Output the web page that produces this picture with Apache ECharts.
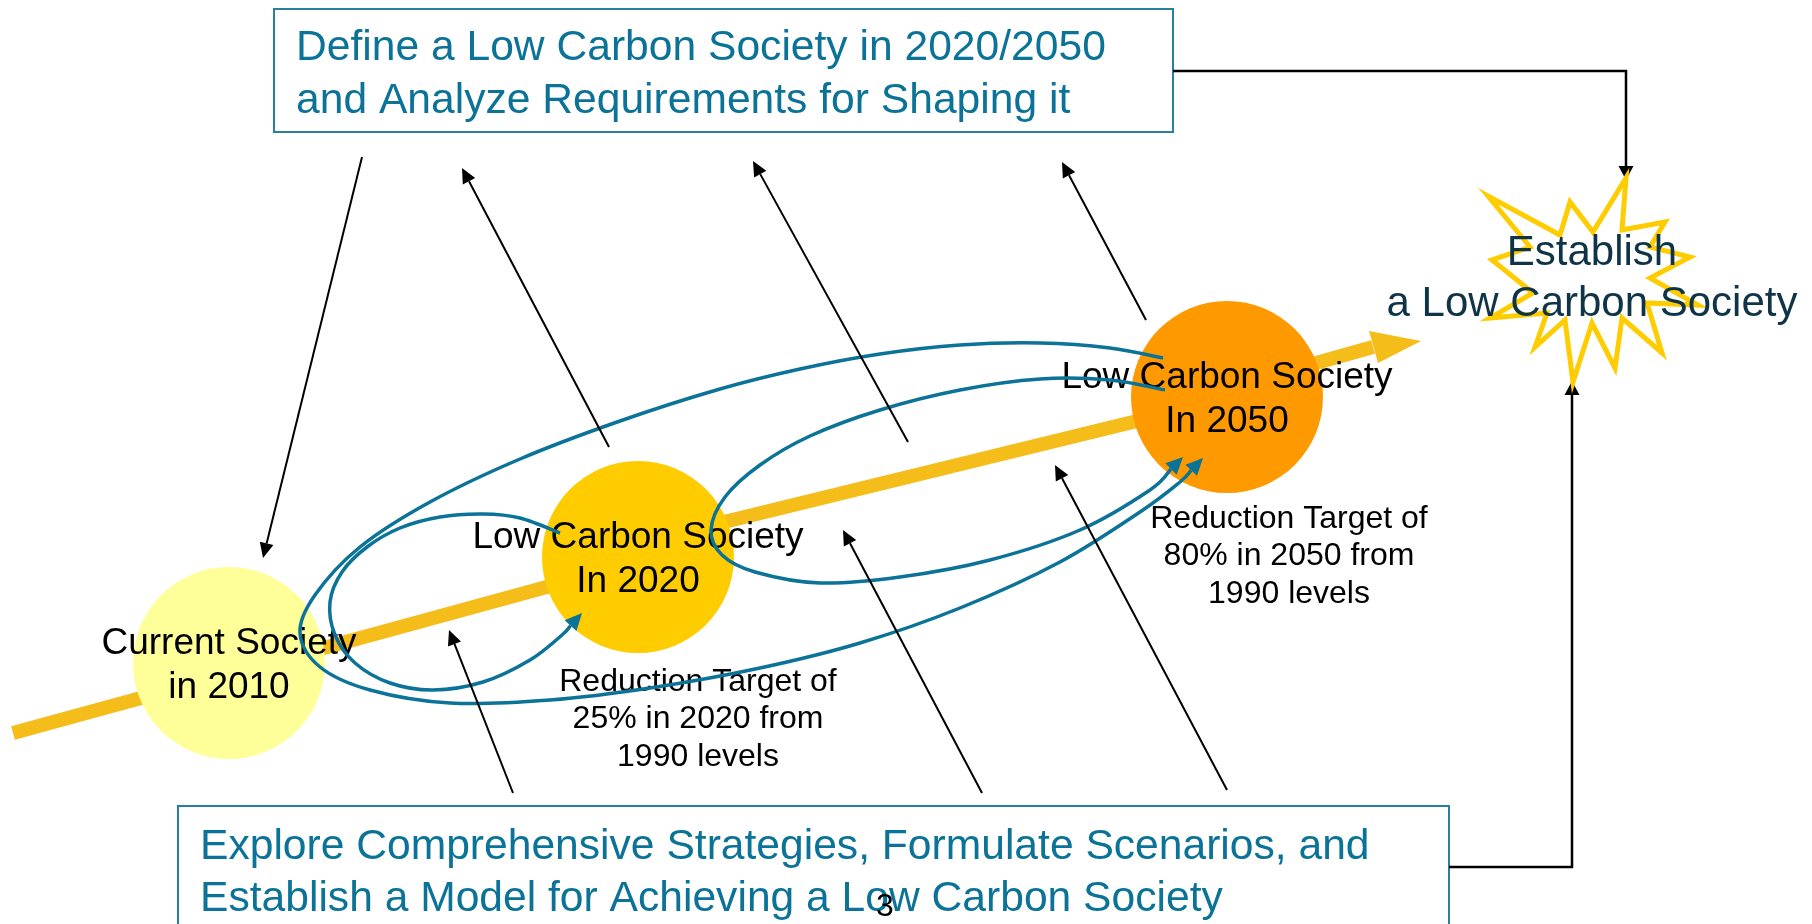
<!DOCTYPE html>
<html><head><meta charset="utf-8">
<script src="https://cdn.jsdelivr.net/npm/echarts@6/dist/echarts.min.js"></script>
<style>html,body{margin:0;padding:0;background:#fff}#c{width:1812px;height:924px}</style>
</head><body><div id="c"></div>
<script>
// ---------- texts ----------
const topBoxLines = ['Define a Low Carbon Society in 2020/2050', 'and Analyze Requirements for Shaping it'];
const bottomBoxLines = ['Explore Comprehensive Strategies, Formulate Scenarios, and', 'Establish a Model for Achieving a Low Carbon Society'];
const goalLines = ['Establish', 'a Low Carbon Society'];
const stageNames = [['Current Society', 'in 2010'], ['Low Carbon Society', 'In 2020'], ['Low Carbon Society', 'In 2050']];
const targetNotes = [['Reduction Target of', '25% in 2020 from', '1990 levels'], ['Reduction Target of', '80% in 2050 from', '1990 levels']];
const pageNumber = '3';

// ---------- diagram geometry (diagram units, mapped through hidden value axes) ----------
const boxRects = [[274, 9, 1173, 132], [178, 806, 1449, 940]];
const stageCentres = [[229, 663], [638, 557], [1227, 397]];
const stageRadius = 96;
const trunkSegments = [[13, 733, 638, 562], [638, 543, 1227, 399], [1227, 388, 1373, 347]];
const trunkHead = [[1369, 331], [1421, 341], [1378, 363]];
const connectorPaths = [
  [[1173, 71], [1626, 71], [1626, 180]],
  [[1449, 867], [1572, 867], [1572, 381]]
];
const pointerArrows = [ // [fromX, fromY, tipX, tipY]
  [362, 157, 263, 558],
  [609, 447, 462, 168],
  [908, 442, 753, 161],
  [1146, 320, 1062, 162],
  [513, 793, 449, 630],
  [982, 793, 843, 530],
  [1227, 790, 1055, 465]
];
const loopA = [[560, 533], [520, 518], [483, 514], [440, 517], [400, 528], [367, 547], [342, 572], [330, 602], [335, 635], [355, 663], [390, 683], [433, 690], [483, 682], [530, 660], [562, 635], [582, 613]];
const loopB = [[1163, 358], [1110, 348], [1040, 343], [960, 345], [880, 354], [800, 369], [720, 389], [620, 421], [520, 459], [430, 502], [360, 547], [315, 595], [300, 633], [320, 667], [370, 690], [450, 703], [550, 700], [650, 688], [760, 668], [860, 643], [960, 608], [1060, 562], [1140, 512], [1180, 482], [1203, 458]];
const loopC = [[1165, 390], [1110, 380], [1040, 379], [960, 390], [880, 410], [810, 436], [760, 465], [725, 497], [711, 530], [722, 555], [755, 572], [820, 583], [900, 577], [990, 560], [1080, 530], [1150, 490], [1183, 457]];
const starOutline = [[1626, 178], [1622, 230], [1665, 222], [1650, 247], [1690, 257], [1650, 278], [1698, 305], [1647, 303], [1662, 353], [1622, 318], [1615, 368], [1592, 323], [1573, 382], [1565, 320], [1535, 347], [1547, 313], [1490, 318], [1533, 293], [1492, 260], [1530, 247], [1488, 196], [1560, 235], [1570, 202], [1593, 232]];

// text anchors
const topTextAnchor = [296, 48, 53];
const bottomTextAnchor = [200, 847, 52];
const goalAnchor = [1592, 253, 51];
const noteAnchors = [[698, 682], [1289, 519]];
const pageAnchor = [885, 907];

// ---------- styles ----------
const FONT = '"Liberation Sans", Arial, sans-serif';
const TEAL = '#0b7397';
const BLUE = '#0b7298';
const TRUNK = '#F5BD1A';
const stageColors = ['#FFFF99', '#FFCC00', '#FF9900'];

function headPoly(from, tip, L, W) {
  const dx = tip[0] - from[0], dy = tip[1] - from[1];
  const d = Math.hypot(dx, dy) || 1;
  const ux = dx / d, uy = dy / d, nx = -uy, ny = ux;
  const bx = tip[0] - ux * L, by = tip[1] - uy * L;
  return [[tip[0], tip[1]], [bx + nx * W / 2, by + ny * W / 2], [bx - nx * W / 2, by - ny * W / 2], [bx, by]];
}
function custom(z, data, fn) {
  return { type: 'custom', z: z, silent: true, animation: false, clip: false,
    data: data, renderItem: (params, api) => fn(params.dataIndex, api) };
}
const rep = arr => arr.map(a => [a[0], a[1]]);
// Catmull-Rom spline through the given pixel points -> SVG path data
function splinePath(P) {
  const n = P.length;
  let d = 'M' + P[0][0] + ' ' + P[0][1];
  for (let i = 0; i < n - 1; i++) {
    const p0 = P[Math.max(0, i - 1)], p1 = P[i], p2 = P[i + 1], p3 = P[Math.min(n - 1, i + 2)];
    const c1 = [p1[0] + (p2[0] - p0[0]) / 6, p1[1] + (p2[1] - p0[1]) / 6];
    const c2 = [p2[0] - (p3[0] - p1[0]) / 6, p2[1] - (p3[1] - p1[1]) / 6];
    d += ' C' + c1[0] + ' ' + c1[1] + ' ' + c2[0] + ' ' + c2[1] + ' ' + p2[0] + ' ' + p2[1];
  }
  return d;
}

// text items built from arrays
const textItems = [];
topBoxLines.forEach((t, i) => textItems.push({ t, x: topTextAnchor[0], y: topTextAnchor[1] + i * topTextAnchor[2], s: 42.6, c: TEAL, a: 'left' }));
bottomBoxLines.forEach((t, i) => textItems.push({ t, x: bottomTextAnchor[0], y: bottomTextAnchor[1] + i * bottomTextAnchor[2], s: 42.6, c: TEAL, a: 'left' }));
goalLines.forEach((t, i) => textItems.push({ t, x: goalAnchor[0], y: goalAnchor[1] + i * goalAnchor[2], s: 42, c: '#0f3447', a: 'center' }));
stageNames.forEach((lines, k) => lines.forEach((t, i) => textItems.push({ t, x: stageCentres[k][0], y: stageCentres[k][1] - 19 + i * 44, s: 37, c: '#000', a: 'center' })));
targetNotes.forEach((lines, k) => lines.forEach((t, i) => textItems.push({ t, x: noteAnchors[k][0], y: noteAnchors[k][1] + i * 37.5, s: 32, c: '#000', a: 'center' })));
textItems.push({ t: pageNumber, x: pageAnchor[0], y: pageAnchor[1], s: 32, c: '#000', a: 'center' });

const loops = [loopA, loopB, loopC];

const chart = echarts.init(document.getElementById('c'), null, { renderer: 'canvas' });
chart.setOption({
  animation: false,
  backgroundColor: '#ffffff',
  grid: { left: 0, right: 0, top: 0, bottom: 0 },
  xAxis: { type: 'value', min: 0, max: 1812, show: false },
  yAxis: { type: 'value', min: 0, max: 924, inverse: true, show: false },
  series: [
    // boxes
    custom(1, rep(boxRects), (i, api) => {
      const b = boxRects[i];
      const p1 = api.coord([b[0], b[1]]), p2 = api.coord([b[2], b[3]]);
      return { type: 'rect', shape: { x: p1[0], y: p1[1], width: p2[0] - p1[0], height: p2[1] - p1[1] },
        style: { fill: '#fff', stroke: '#2a7fa0', lineWidth: 2 } };
    }),
    // elbow connectors
    custom(2, connectorPaths.map(p => p[0]), (i, api) => {
      const pts = connectorPaths[i].map(p => api.coord(p));
      const n = pts.length;
      const h = headPoly(pts[n - 2], pts[n - 1], 14, 15);
      const line = pts.slice(0, n - 1).concat([h[3]]);
      return { type: 'group', children: [
        { type: 'polyline', shape: { points: line }, style: { stroke: '#000', lineWidth: 2.5, fill: null } },
        { type: 'polygon', shape: { points: h.slice(0, 3) }, style: { fill: '#000' } }
      ] };
    }),
    // trunk arrow
    custom(3, rep(trunkSegments), (i, api) => {
      const s = trunkSegments[i];
      const a = api.coord([s[0], s[1]]), b = api.coord([s[2], s[3]]);
      const ch = [{ type: 'line', shape: { x1: a[0], y1: a[1], x2: b[0], y2: b[1] }, style: { stroke: TRUNK, lineWidth: 14, lineCap: 'butt' } }];
      if (i === trunkSegments.length - 1) ch.push({ type: 'polygon', shape: { points: trunkHead.map(p => api.coord(p)) }, style: { fill: TRUNK } });
      return { type: 'group', children: ch };
    }),
    // star
    custom(3, [starOutline[0]], (i, api) => ({
      type: 'polygon', shape: { points: starOutline.map(p => api.coord(p)) },
      style: { fill: 'rgba(255,255,255,0)', stroke: '#FFCC00', lineWidth: 5, lineJoin: 'miter' }
    })),
    // stage circles
    custom(4, stageCentres, (i, api) => {
      const c = api.coord(stageCentres[i]);
      const r = api.size([stageRadius, 0])[0];
      return { type: 'circle', shape: { cx: c[0], cy: c[1], r: r }, style: { fill: stageColors[i] } };
    }),
    // texts
    custom(5, textItems.map(o => [o.x, o.y]), (i, api) => {
      const o = textItems[i];
      const p = api.coord([o.x, o.y]);
      return { type: 'text', style: { text: o.t, x: p[0], y: p[1], fill: o.c, font: o.s + 'px ' + FONT, align: o.a, verticalAlign: 'middle' } };
    }),
    // blue feedback loops with arrowheads
    custom(6, loops.map(p => p[0]), (i, api) => {
      const pts = loops[i].map(p => api.coord(p));
      const n = pts.length;
      const h = headPoly(pts[n - 2], pts[n - 1], 17, 16);
      const body = pts.slice(0, n - 1).concat([h[3]]);
      return { type: 'group', children: [
        { type: 'path', shape: { pathData: splinePath(body) }, style: { stroke: BLUE, lineWidth: 3.5, fill: null } },
        { type: 'polygon', shape: { points: h.slice(0, 3) }, style: { fill: BLUE } }
      ] };
    }),
    // black pointer arrows
    custom(7, pointerArrows.map(a => [a[2], a[3]]), (i, api) => {
      const a = pointerArrows[i];
      const f = api.coord([a[0], a[1]]), t = api.coord([a[2], a[3]]);
      const h = headPoly(f, t, 15, 14);
      return { type: 'group', children: [
        { type: 'line', shape: { x1: f[0], y1: f[1], x2: h[3][0], y2: h[3][1] }, style: { stroke: '#000', lineWidth: 2 } },
        { type: 'polygon', shape: { points: h.slice(0, 3) }, style: { fill: '#000' } }
      ] };
    })
  ]
});
</script></body></html>
